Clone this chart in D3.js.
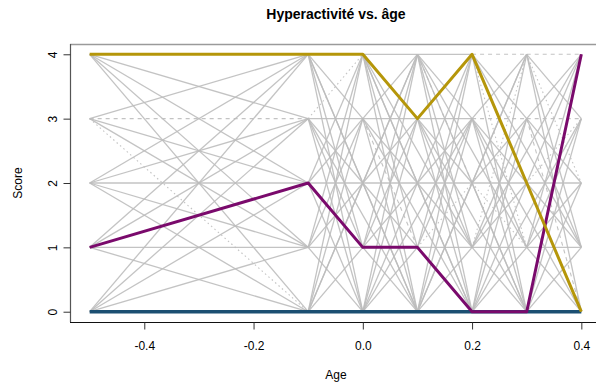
<!DOCTYPE html>
<html><head><meta charset="utf-8">
<script src="https://cdn.jsdelivr.net/npm/d3@7"></script>
<style>body{margin:0;background:#fff}svg{display:block;font-family:"Liberation Sans",Arial,sans-serif}</style>
</head><body><svg id="c" width="596" height="385"></svg>
<script>
// ---- data ----
const ages = [-0.5, -0.1, 0.0, 0.1, 0.2, 0.3, 0.4];
const scores = [0, 1, 2, 3, 4];
const xTicks = [-0.4, -0.2, 0.0, 0.2, 0.4];
const xTickLabels = ["-0.4", "-0.2", "0.0", "0.2", "0.4"];
const yTicks = [0, 1, 2, 3, 4];
const yTickLabels = ["0", "1", "2", "3", "4"];
// transitions between consecutive ages: rows = score at age i, cols = score at age i+1
// 0 = none, 1 = solid, 2 = dashed, 3 = dotted
const trans = [
  [[1,1,1,1,1],[1,1,1,1,1],[1,1,1,1,1],[3,1,1,2,1],[1,1,1,1,1]],
  [[1,1,1,1,1],[1,1,1,1,1],[1,2,1,1,1],[1,1,1,1,3],[1,1,1,1,1]],
  [[1,1,1,1,1],[1,1,1,1,1],[1,1,1,1,1],[1,2,1,1,1],[1,1,1,1,1]],
  [[1,1,1,1,1],[1,1,3,1,1],[1,1,1,1,1],[1,1,1,1,1],[1,1,2,1,1]],
  [[1,1,1,1,1],[1,1,1,1,3],[1,3,1,1,1],[1,1,1,2,1],[1,3,1,1,2]],
  [[1,1,1,1,1],[1,1,1,1,1],[1,1,1,3,1],[2,1,1,2,1],[1,1,3,1,2]]
];
// segments that skip an age: [fromAgeIndex, fromScore, toAgeIndex, toScore]
const skips = [
  [1,4,3,0],[1,0,3,4],[1,3,3,0],[2,4,4,0],[2,4,4,1],[2,0,4,3],[2,3,4,0],
  [3,4,5,0],[3,0,5,4],[3,3,5,0],[3,4,5,1],[4,4,6,1],[4,3,6,0],[4,0,6,3],[4,1,6,4]
];
const highlight = [
  {name:"bleu",   color:"#1b4f72", w:3.4, values:[0,0,0,0,0,0,0]},
  {name:"violet", color:"#7a0a6c", w:3.0, values:[1,2,1,1,0,0,4]},
  {name:"or",     color:"#b5960a", w:3.0, values:[4,4,4,3,4,2,0]}
];
const title = "Hyperactivité vs. âge";
const xLabel = "Age", yLabel = "Score";

// ---- layout ----
const svg = d3.select("#c");
const L = 70, R = 601, T = 44, B = 322;
const xr = d3.extent(ages), yr = d3.extent(scores);
const dx = (xr[1]-xr[0])*0.04, dy = (yr[1]-yr[0])*0.04;
const x = d3.scaleLinear().domain([xr[0]-dx, xr[1]+dx]).range([L, R]);
const y = d3.scaleLinear().domain([yr[0]-dy, yr[1]+dy]).range([B, T]);

const dash = {1:null, 2:"4,4", 3:"1.5,3"};
const g = svg.append("g");
const segs = [];
trans.forEach((m, i) => m.forEach((row, a) => row.forEach((t, b) => {
  if (t) segs.push({x1:ages[i], y1:a, x2:ages[i+1], y2:b, t});
})));
skips.forEach(s => segs.push({x1:ages[s[0]], y1:s[1], x2:ages[s[2]], y2:s[3], t:1}));
g.selectAll("line.gr").data(segs).join("line").attr("class","gr")
  .attr("x1", d => x(d.x1)).attr("y1", d => y(d.y1))
  .attr("x2", d => x(d.x2)).attr("y2", d => y(d.y2))
  .attr("stroke", "#bdbdbd").attr("stroke-width", d => d.t === 1 ? 1.3 : 1.1)
  .attr("stroke-opacity", 0.9)
  .attr("stroke-dasharray", d => dash[d.t]);

const line = d3.line().x((d, i) => x(ages[i])).y(d => y(d));
g.selectAll("path.hl").data(highlight).join("path").attr("class","hl")
  .attr("d", d => line(d.values)).attr("fill","none")
  .attr("stroke", d => d.color).attr("stroke-width", d => d.w)
  .attr("stroke-linejoin","round");

// frame
svg.append("line").attr("x1",L).attr("x2",596).attr("y1",T+0.5).attr("y2",T+0.5).attr("stroke","#9a9a9a").attr("stroke-width",1.5);
svg.append("line").attr("x1",L+0.5).attr("x2",L+0.5).attr("y1",T).attr("y2",B).attr("stroke","#555").attr("stroke-width",1.2);
svg.append("line").attr("x1",L).attr("x2",596).attr("y1",B+0.5).attr("y2",B+0.5).attr("stroke","#111").attr("stroke-width",1.2);

// axes
const xa = svg.append("g").attr("transform",`translate(0,${B+0.5})`)
  .call(d3.axisBottom(x).tickValues(xTicks).tickFormat((d, i) => xTickLabels[i]).tickSize(7).tickPadding(12));
xa.select(".domain").remove();
xa.selectAll("text").attr("font-size",12).attr("fill","#000").attr("font-family","Liberation Sans, Arial, sans-serif");
xa.selectAll("line").attr("stroke","#333");
const ya = svg.append("g").attr("transform",`translate(${L+0.5},0)`)
  .call(d3.axisLeft(y).tickValues(yTicks).tickFormat((d, i) => yTickLabels[i]).tickSize(7).tickPadding(0));
ya.select(".domain").remove();
ya.selectAll("line").attr("stroke","#333");
ya.selectAll("text").attr("font-size",12).attr("fill","#000").attr("font-family","Liberation Sans, Arial, sans-serif")
  .attr("text-anchor","middle").attr("dy",null).attr("x",null)
  .attr("transform","translate(-18,0) rotate(-90)").attr("dy","0.35em");

svg.append("text").attr("x",336).attr("y",19).attr("text-anchor","middle")
  .attr("font-size",14).attr("font-weight","bold").text(title);
svg.append("text").attr("x",336).attr("y",379).attr("text-anchor","middle")
  .attr("font-size",12).text(xLabel);
svg.append("text").attr("transform","translate(22,183) rotate(-90)").attr("text-anchor","middle")
  .attr("font-size",12).text(yLabel);
</script></body></html>
